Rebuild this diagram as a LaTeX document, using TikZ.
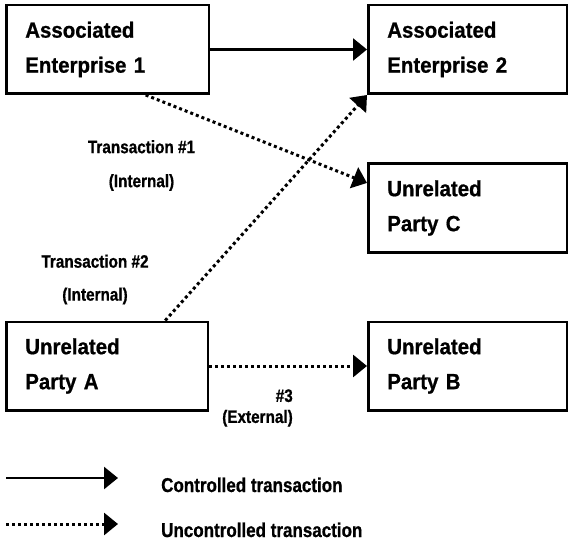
\documentclass[tikz,border=0pt]{standalone}
\usepackage{fontspec}
\setmainfont{Liberation Sans}
\newfontfamily\narrowfont[FakeStretch=0.85, BoldFeatures={FakeBold=0.8}]{Liberation Sans}
\newfontfamily\boxfont[FakeStretch=0.93, BoldFeatures={FakeBold=0.8}]{Liberation Sans}
\usetikzlibrary{arrows.meta}
\tikzset{mybox/.style={draw, line width=2.5pt, inner xsep=19pt, inner ysep=0pt, text width=160.5pt, minimum height=88.5pt, align=left, font=\boxfont\bfseries\fontsize{22}{35}\selectfont}}
\tikzset{myarrow/.style={line width=2.6pt, -{Triangle[length=14pt,width=22pt]}}}
\tikzset{myarrowDot/.style={myarrow, line width=3pt, dash pattern=on 3pt off 3pt}}
\tikzset{mylabel/.style={inner sep=0pt, align=center, font=\narrowfont\bfseries\fontsize{18}{34}\selectfont}}
\tikzset{mylegend/.style={inner sep=0pt, anchor=base west, font=\narrowfont\bfseries\fontsize{20}{23}\selectfont}}

\begin{document}
\begin{tikzpicture}[x=1pt, y=-1pt]
\useasboundingbox (0,0) rectangle (570,540);

\node[mybox, text width=164.5pt] (ae1) at (107.5, 49.5) {Associated\\Enterprise 1};
\node[mybox] (ae2) at (467.5, 49.5) {Associated\\Enterprise 2};
\node[mybox] (pc) at (467.5, 208) {Unrelated\\Party C};
\node[mybox, text width=163.5pt] (pa) at (107, 366) {Unrelated\\Party A};
\node[mybox] (pb) at (467.5, 366) {Unrelated\\Party B};

\node[mylabel] (lbl1) at (141.5, 165.5) {Transaction \#1\\(Internal)};
\node[mylabel, font=\narrowfont\bfseries\fontsize{18}{33}\selectfont] (lbl2) at (95, 279.5) {Transaction \#2\\(Internal)};
\node[mylabel, align=right, anchor=east, font=\narrowfont\bfseries\fontsize{18}{21}\selectfont] (lbl3) at (293, 408) {\#3\\(External)};

\draw[myarrow] (ae1.east) -- (ae2.west);
\draw[myarrowDot] (ae1.-50) -- (pc.166);
\draw[myarrowDot] (pa.38) -- (ae2.south west);
\draw[myarrowDot] (pa.east) -- (pb.west);

% legend
\coordinate (ctrlA) at (6, 478);
\coordinate (ctrlB) at (118, 478);
\coordinate (unctrlA) at (6, 524);
\coordinate (unctrlB) at (118, 524);
\draw[myarrow] (ctrlA) -- (ctrlB);
\draw[myarrowDot] (unctrlA) -- (unctrlB);
\node[mylegend] (ctrl) at (161, 492) {Controlled transaction};
\node[mylegend] (unctrl) at (161, 537) {Uncontrolled transaction};

\end{tikzpicture}
\end{document}
